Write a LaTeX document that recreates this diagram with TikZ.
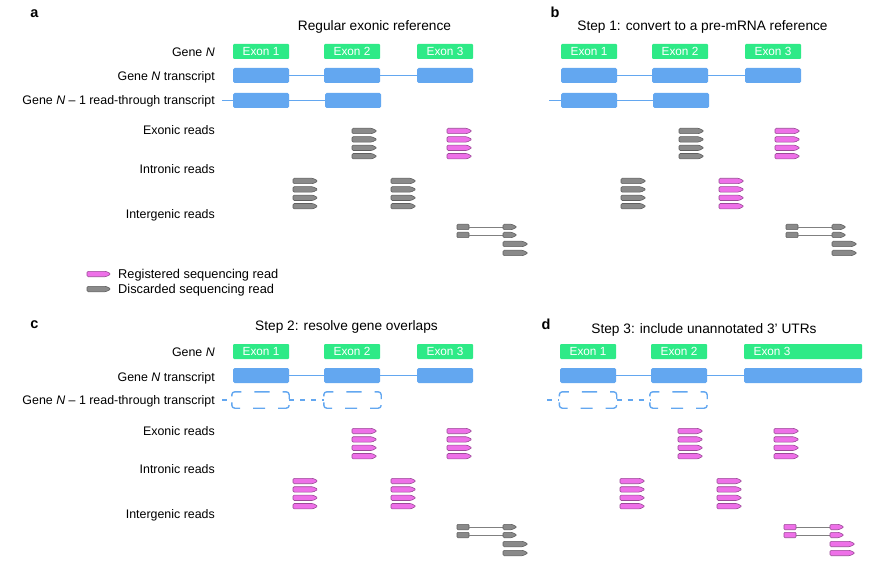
\documentclass[tikz,border=0pt]{standalone}
\usepackage{fontspec}
\setmainfont{Liberation Sans}
\definecolor{exg}{HTML}{2EEA87}
\definecolor{trb}{HTML}{63A7F0}
\definecolor{rpk}{HTML}{EE70E8}
\definecolor{rpkd}{HTML}{9A4A96}
\definecolor{rgy}{HTML}{8A8A8A}
\definecolor{rgyd}{HTML}{5E5E5E}
\definecolor{lgy}{HTML}{808080}
\tikzset{
 exon/.style={fill=exg, rounded corners=1pt, minimum height=15, minimum width=56, inner sep=0, text=white, font=\fontsize{11.8}{12}\selectfont},
 tbox/.style={fill=trb, rounded corners=1.5pt, minimum height=15, minimum width=56, inner sep=0},
 rtbox/.style={minimum height=16, minimum width=57, inner sep=0},
 dline/.style={draw=trb, line width=1.4pt, rounded corners=3pt, dash pattern=on 12pt off 13pt on 12.7pt off 6pt on 12.7pt off 13pt, dash phase=6pt},
 intron/.style={trb, line width=1.7pt},
 dintron/.style={trb, line width=1.4pt, dash pattern=on 5pt off 6pt},
 rowlab/.style={anchor=base east, font=\fontsize{12.4}{14}\selectfont, inner sep=0},
 leglab/.style={anchor=base west, font=\fontsize{12.8}{14}\selectfont, inner sep=0},
 ttl/.style={anchor=base, font=\fontsize{13.7}{15}\selectfont, inner sep=0},
 plet/.style={anchor=base, font=\fontsize{14.5}{15}\selectfont\bfseries, inner sep=0},
 reg/.style={fill=rpk, draw=rpkd, line width=0.6pt},
 dis/.style={fill=rgy, draw=rgyd, line width=0.6pt},
 sbox/.style={minimum width=12, minimum height=5.4, inner sep=0, rounded corners=1pt},
 spl/.style={draw=lgy, line width=0.9pt},
}
% read: x, y, length, style
\newcommand\rdw[4]{\draw[rounded corners=1.2pt,#4] (#1,#2) ++(0,-2.7) -- ++(#3-5,0) -- ++(5,2.7) -- ++(-5,2.7) -- ++(5-#3,0) -- cycle;}
% stack of four reads
\newcommand\rstack[3]{\foreach \k in {0,...,3}{\rdw{#1}{#2+8.4*\k}{25}{#3}}}
% intergenic group: prefix, x, y, style
\newcommand\igr[4]{%
 \node[sbox,#4] (#1-b1) at (#2+6,#3) {};
 \node[sbox,#4] (#1-b2) at (#2+6,#3+8) {};
 \coordinate (#1-c1) at (#2+46,#3);
 \coordinate (#1-c2) at (#2+46,#3+8);
 \draw[spl] (#1-b1.east) -- (#1-c1);
 \draw[spl] (#1-b2.east) -- (#1-c2);
 \rdw{#2+46}{#3}{14}{#4}
 \rdw{#2+46}{#3+8}{14}{#4}
 \rdw{#2+46}{#3+17}{25}{#4}
 \rdw{#2+46}{#3+26}{25}{#4}}
\begin{document}
\begin{tikzpicture}[x=1pt,y=-1pt]
\useasboundingbox (0,0) rectangle (880,569);
% ================= panel a
\node[plet] (a-let) at (34.5,17.3) {a};
\node[ttl] (a-ttl) at (374.5,30.3) {Regular exonic reference};
\node[rowlab] (a-l1) at (215,56.7) {Gene \textit{N}};
\node[rowlab] (a-l2) at (215,81) {Gene \textit{N} transcript};
\node[rowlab] (a-l3) at (215,104.5) {Gene \textit{N} – 1 read-through transcript};
\node[rowlab] (a-l4) at (215,135) {Exonic reads};
\node[rowlab] (a-l5) at (215,173.3) {Intronic reads};
\node[rowlab] (a-l6) at (215,218.5) {Intergenic reads};
\node[exon] (a-e1) at (261,51.5) {Exon 1};
\node[exon] (a-e2) at (352,51.5) {Exon 2};
\node[exon] (a-e3) at (445,51.5) {Exon 3};
\node[tbox] (a-t1) at (261,75.5) {};
\node[tbox] (a-t2) at (352,75.5) {};
\node[tbox] (a-t3) at (445,75.5) {};
\draw[intron] (a-t1.east) -- (a-t2.west) (a-t2.east) -- (a-t3.west);
\node[tbox] (a-r1) at (261,100.5) {};
\node[tbox] (a-r2) at (353,100.5) {};
\coordinate (a-rs) at (222,100.5);
\draw[intron] (a-rs) -- (a-r1.west) (a-r1.east) -- (a-r2.west);
\rstack{352}{131}{dis}
\rstack{447}{131}{reg}
\rstack{293}{181}{dis}
\rstack{391}{181}{dis}
\igr{a-ig}{457}{227}{dis}
% legend
\rdw{87}{274}{24}{reg}
\rdw{87}{289}{24}{dis}
\node[leglab] (lg1) at (118,278.3) {Registered sequencing read};
\node[leglab] (lg2) at (118,293.3) {Discarded sequencing read};
% ================= panel b
\begin{scope}[shift={(328,0)}]
\node[plet] (b-let) at (227,17.3) {b};
\node[ttl] (b-ttl) at (374.5,30.7) {Step 1: convert to a pre-mRNA reference};
\node[exon] (b-e1) at (261,51.5) {Exon 1};
\node[exon] (b-e2) at (352,51.5) {Exon 2};
\node[exon] (b-e3) at (445,51.5) {Exon 3};
\node[tbox] (b-t1) at (261,75.5) {};
\node[tbox] (b-t2) at (352,75.5) {};
\node[tbox] (b-t3) at (445,75.5) {};
\draw[intron] (b-t1.east) -- (b-t2.west) (b-t2.east) -- (b-t3.west);
\node[tbox] (b-r1) at (261,100.5) {};
\node[tbox] (b-r2) at (353,100.5) {};
\coordinate (b-rs) at (221,100.5);
\draw[intron] (b-rs) -- (b-r1.west) (b-r1.east) -- (b-r2.west);
\rstack{351}{131}{dis}
\rstack{447}{131}{reg}
\rstack{293}{181}{dis}
\rstack{391}{181}{reg}
\igr{b-ig}{458}{227}{dis}
\end{scope}
% ================= panel c
\begin{scope}[shift={(0,300)}]
\node[plet] (c-let) at (34.5,28) {c};
\node[ttl] (c-ttl) at (346.5,30.7) {Step 2: resolve gene overlaps};
\node[rowlab] (c-l1) at (215,56.7) {Gene \textit{N}};
\node[rowlab] (c-l2) at (215,81) {Gene \textit{N} transcript};
\node[rowlab] (c-l3) at (215,104.5) {Gene \textit{N} – 1 read-through transcript};
\node[rowlab] (c-l4) at (215,135) {Exonic reads};
\node[rowlab] (c-l5) at (215,173.3) {Intronic reads};
\node[rowlab] (c-l6) at (215,218.5) {Intergenic reads};
\node[exon] (c-e1) at (261,51.5) {Exon 1};
\node[exon] (c-e2) at (352,51.5) {Exon 2};
\node[exon] (c-e3) at (445,51.5) {Exon 3};
\node[tbox] (c-t1) at (261,75.5) {};
\node[tbox] (c-t2) at (352,75.5) {};
\node[tbox] (c-t3) at (445,75.5) {};
\draw[intron] (c-t1.east) -- (c-t2.west) (c-t2.east) -- (c-t3.west);
\node[rtbox] (c-r1) at (260.5,100) {};
\node[rtbox] (c-r2) at (352.5,100) {};
\foreach \n in {c-r1,c-r2}{
 \draw[dline] (\n.north) -- (\n.north east) -- (\n.south east) -- (\n.south west) -- (\n.north west) -- cycle;}
\coordinate (c-rs) at (222,100);
\draw[dintron] (c-rs) -- (c-r1.west);
\draw[dintron] (c-r1.east) -- (c-r2.west);
\rstack{352}{131}{reg}
\rstack{447}{131}{reg}
\rstack{293}{181}{reg}
\rstack{391}{181}{reg}
\igr{c-ig}{457}{227}{dis}
\end{scope}
% ================= panel d
\begin{scope}[shift={(327,300)}]
\node[plet] (d-let) at (219,29) {d};
\node[ttl] (d-ttl) at (377,33.3) {Step 3: include unannotated 3’ UTRs};
\node[exon] (d-e1) at (261,51.5) {Exon 1};
\node[exon] (d-e2) at (352,51.5) {Exon 2};
\node[exon, minimum width=118] (d-e3) at (476,51.5) {\hspace*{-62pt}Exon 3};
\node[tbox] (d-t1) at (261,75.5) {};
\node[tbox] (d-t2) at (352,75.5) {};
\node[tbox, minimum width=118] (d-t3) at (476,75.5) {};
\draw[intron] (d-t1.east) -- (d-t2.west) (d-t2.east) -- (d-t3.west);
\node[rtbox] (d-r1) at (261,100) {};
\node[rtbox] (d-r2) at (351.5,100) {};
\foreach \n in {d-r1,d-r2}{
 \draw[dline] (\n.north) -- (\n.north east) -- (\n.south east) -- (\n.south west) -- (\n.north west) -- cycle;}
\coordinate (d-rs) at (220,100);
\draw[dintron] (d-rs) -- (d-r1.west);
\draw[dintron] (d-r1.east) -- (d-r2.west);
\rstack{351}{131}{reg}
\rstack{447}{131}{reg}
\rstack{293}{181}{reg}
\rstack{390}{181}{reg}
\igr{d-ig}{457}{227}{reg}
\end{scope}
\end{tikzpicture}
\end{document}
